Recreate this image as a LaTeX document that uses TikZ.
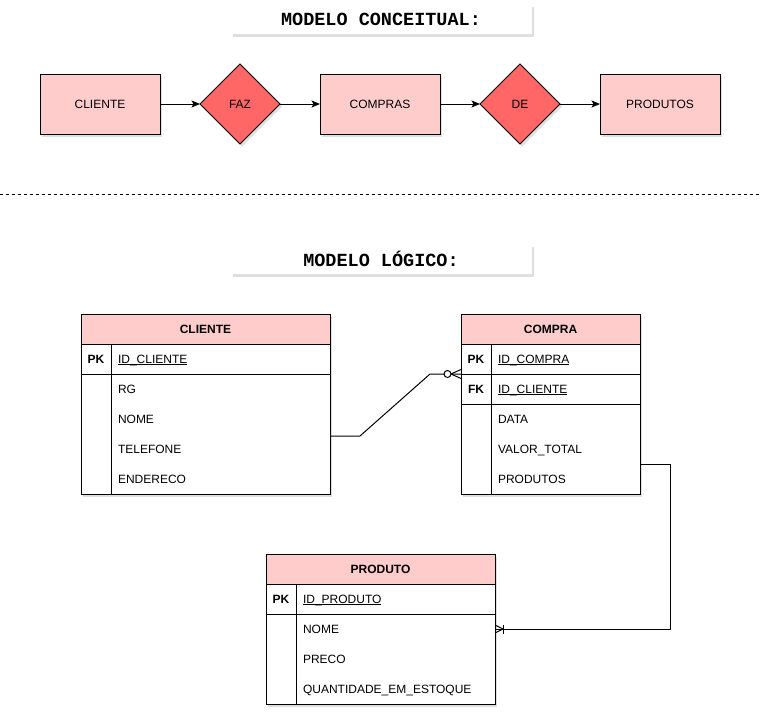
\documentclass[tikz,border=0pt]{standalone}
\usepackage{fontspec}
\setmainfont{Liberation Sans}
\setmonofont{Liberation Mono}
\usetikzlibrary{shapes}
\usetikzlibrary{arrows.meta}
\usetikzlibrary{positioning}
\usetikzlibrary{shadows}
\usetikzlibrary{backgrounds}
\usetikzlibrary{fit}
\definecolor{rosa}{HTML}{FFCCCC}
\definecolor{vermelho}{HTML}{FF6666}
\newcommand{\letra}{\fontsize{12}{14}\selectfont}
\newcommand{\sublinha}[1]{\setbox0=\hbox{#1}\rlap{\rule[-2pt]{\wd0}{0.9pt}}\box0}
\tikzset{
	sombra/.style = {drop shadow={shadow xshift=2pt, shadow yshift=-2.5pt,
		opacity=0.25}},
	titulo/.style = {rectangle, fill=white, sombra, minimum width=301pt,
		minimum height=30pt, font=\ttfamily\bfseries\fontsize{18.5}{20}\selectfont},% titulo do modelo
	ent/.style = {rectangle, draw=black, fill=rosa, sombra, outer sep=0pt,
		minimum width=120pt, minimum height=60pt, font=\letra},% entidade
	rel/.style = {diamond, draw=black, fill=vermelho, sombra, outer sep=0pt,
		minimum width=80pt, minimum height=80pt, inner sep=0pt, font=\letra},% relacionamento
	seta/.style = {-{Stealth[length=8.5pt, width=7pt, inset=2pt]}},
	cab/.style = {rectangle, draw=black, fill=rosa, outer sep=0pt, minimum width=#1,
		minimum height=30pt, text height=11pt, text depth=2.4pt,
		font=\letra\bfseries},% cabecalho da tabela
	campo/.style = {rectangle, outer sep=0pt, minimum width=#1, text width=#1-74pt,
		align=left, minimum height=30pt, text height=11pt, text depth=2.4pt,
		font=\letra},% campo da tabela
	chave/.style = {campo=#1, draw=black},% campo chave (PK, FK)
	pk/.style = {anchor=center, xshift=15pt, text height=11pt, text depth=2.4pt,
		font=\letra\bfseries},% rotulo da chave
	tabela/.style = {rectangle, fill=white, sombra, inner sep=0pt},% fundo da tabela
	muitos_zero/.pic = {
		\draw (-10,0) -- (0,-4.5) (-10,0) -- (0,4.5);
		\draw[fill=white] (-13.5,0) circle[radius=3.5pt];
	},% zero ou muitos
	muitos_um/.pic = {
		\draw (-8,0) -- (0,-4) (-8,0) -- (0,4);
		\draw (-8,-4.5) -- (-8,4.5);
	}% um ou muitos
}
\begin{document}
\begin{tikzpicture}[x=1pt, y=-1pt, line width=1pt]
	\useasboundingbox (0,0) rectangle (762,712);

	% modelo conceitual
	\node[titulo] (t_conceitual) at (381,19) {MODELO CONCEITUAL:};
	\node[ent] (cli) at (100,104) {CLIENTE};
	\node[rel, right=40pt of cli] (faz) {FAZ};
	\node[ent, right=40pt of faz] (compras) {COMPRAS};
	\node[rel, right=40pt of compras] (de) {DE};
	\node[ent, right=40pt of de] (produtos) {PRODUTOS};
	\draw[seta] (cli) -- (faz);
	\draw[seta] (faz) -- (compras);
	\draw[seta] (compras) -- (de);
	\draw[seta] (de) -- (produtos);

	\coordinate (sep_e) at (0,194);
	\coordinate (sep_d) at (762,194);
	\draw[dash pattern=on 3pt off 3pt] (sep_e) -- (sep_d);

	% modelo logico
	\node[titulo] (t_logico) at (381,259) {MODELO LÓGICO:};

	\node[cab=249pt, anchor=north west] (cliente) at (81,314) {CLIENTE};
	\node[chave=249pt, label={[pk]west:PK}, below=0pt of cliente] (cliente_id) {\sublinha{ID\_CLIENTE}};
	\node[campo=249pt, below=0pt of cliente_id] (cliente_rg) {RG};
	\node[campo=249pt, below=0pt of cliente_rg] (cliente_nome) {NOME};
	\node[campo=249pt, below=0pt of cliente_nome] (cliente_tel) {TELEFONE};
	\node[campo=249pt, below=0pt of cliente_tel] (cliente_end) {ENDERECO};
	\draw (cliente_rg.north west) rectangle (cliente_end.south east);
	\draw ([xshift=30pt]cliente.south west) -- ([xshift=30pt]cliente_end.south west);

	\node[cab=179pt, anchor=north west] (compra) at (461,314) {COMPRA};
	\node[chave=179pt, label={[pk]west:PK}, below=0pt of compra] (compra_id) {\sublinha{ID\_COMPRA}};
	\node[chave=179pt, label={[pk]west:FK}, below=0pt of compra_id] (compra_cli) {\sublinha{ID\_CLIENTE}};
	\node[campo=179pt, below=0pt of compra_cli] (compra_data) {DATA};
	\node[campo=179pt, below=0pt of compra_data] (compra_valor) {VALOR\_TOTAL};
	\node[campo=179pt, below=0pt of compra_valor] (compra_prod) {PRODUTOS};
	\draw (compra_data.north west) rectangle (compra_prod.south east);
	\draw ([xshift=30pt]compra.south west) -- ([xshift=30pt]compra_prod.south west);

	\node[cab=229pt, anchor=north west] (produto) at (266,554) {PRODUTO};
	\node[chave=229pt, label={[pk]west:PK}, below=0pt of produto] (produto_id) {\sublinha{ID\_PRODUTO}};
	\node[campo=229pt, below=0pt of produto_id] (produto_nome) {NOME};
	\node[campo=229pt, below=0pt of produto_nome] (produto_preco) {PRECO};
	\node[campo=229pt, below=0pt of produto_preco] (produto_qtd) {QUANTIDADE\_EM\_ESTOQUE};
	\draw (produto_nome.north west) rectangle (produto_qtd.south east);
	\draw ([xshift=30pt]produto.south west) -- ([xshift=30pt]produto_qtd.south west);

	\begin{scope}[on background layer]
		\node[tabela, fit=(cliente)(cliente_end)] (cliente_fundo) {};
		\node[tabela, fit=(compra)(compra_prod)] (compra_fundo) {};
		\node[tabela, fit=(produto)(produto_qtd)] (produto_fundo) {};
	\end{scope}

	% ligacoes
	\draw ([yshift=-2pt]cliente_nome.south east) -- ++(30,0) -- ([xshift=-31pt]compra_id.south west) -- (compra_id.south west);
	\pic at (compra_id.south west) {muitos_zero};
	\draw (compra_prod.north east) -- ++(30,0) |- (produto_nome.east);
	\pic[rotate=180] at (produto_nome.east) {muitos_um};
\end{tikzpicture}
\end{document}
